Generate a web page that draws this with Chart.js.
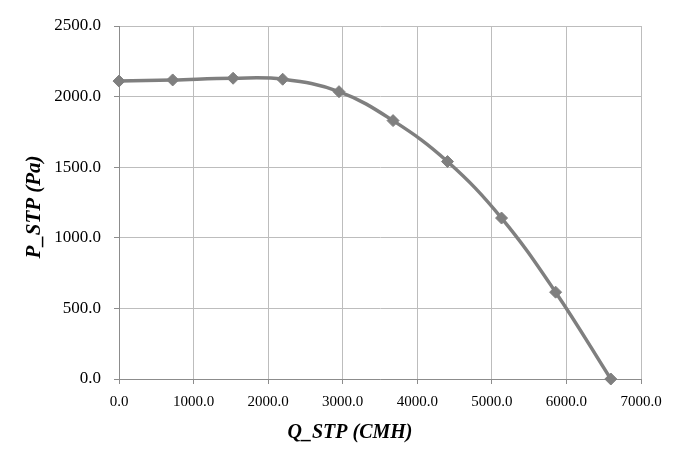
<!DOCTYPE html>
<html>
<head>
<meta charset="utf-8">
<script src="https://cdn.jsdelivr.net/npm/chart.js@4/dist/chart.umd.min.js"></script>
<style>
html,body{margin:0;padding:0;background:#fff;}
#wrap{width:700px;height:459px;position:relative;}
</style>
</head>
<body>
<div id="wrap"><canvas id="c" width="700" height="459"></canvas></div>
<script>
const qValues = [0, 720, 1530, 2195, 2950, 3675, 4405, 5130, 5855, 6595];
const pValues = [2110, 2118, 2130, 2123, 2035, 1830, 1540, 1140, 615, 0];
const xTitle = 'Q_STP (CMH)';
const yTitle = 'P_STP (Pa)';

const points = qValues.map((q, i) => ({x: q, y: pValues[i]}));

const titlePlugin = {
  id: 'axisTitles',
  afterDraw(chart) {
    const ctx = chart.ctx;
    ctx.save();
    ctx.fillStyle = '#000';
    ctx.textAlign = 'center';
    ctx.textBaseline = 'middle';
    ctx.font = 'italic bold 20px "Liberation Serif", "Times New Roman", serif';
    ctx.fillText(xTitle, 350, 433);
    ctx.translate(35, 207);
    ctx.rotate(-Math.PI / 2);
    ctx.font = 'italic bold 21px "Liberation Serif", "Times New Roman", serif';
    ctx.fillText(yTitle, 0, 0);
    ctx.restore();
  }
};

new Chart(document.getElementById('c'), {
  type: 'scatter',
  data: {
    datasets: [{
      data: points,
      showLine: true,
      clip: false,
      tension: 0.4,
      borderColor: '#7f7f7f',
      backgroundColor: '#7f7f7f',
      borderWidth: 3.5,
      pointStyle: 'rectRot',
      pointRadius: 6,
      pointHoverRadius: 6,
      pointBackgroundColor: '#7f7f7f',
      pointBorderColor: '#7f7f7f',
      pointBorderWidth: 1
    }]
  },
  options: {
    responsive: false,
    animation: false,
    devicePixelRatio: 1,
    layout: {padding: {left: 0, top: 26, right: 59, bottom: 0}},
    plugins: {legend: {display: false}, tooltip: {enabled: false}},
    scales: {
      x: {
        type: 'linear',
        min: 0, max: 7000,
        ticks: {
          stepSize: 1000,
          padding: 9,
          color: '#000',
          maxRotation: 0,
          font: {family: '"Liberation Serif", "Times New Roman", serif', size: 15},
          callback: v => v.toFixed(1)
        },
        grid: {color: '#bdbdbd', lineWidth: 1, tickLength: 5, tickColor: '#8c8c8c'},
        border: {color: '#8c8c8c', width: 1},
        afterFit(s) { s.height = 80; }
      },
      y: {
        type: 'linear',
        min: 0, max: 2500,
        ticks: {
          stepSize: 500,
          padding: 13,
          color: '#000',
          font: {family: '"Liberation Serif", "Times New Roman", serif', size: 17},
          callback: v => v.toFixed(1)
        },
        grid: {color: '#bdbdbd', lineWidth: 1, tickLength: 5, tickColor: '#8c8c8c'},
        border: {color: '#8c8c8c', width: 1},
        afterFit(s) { s.width = 119; }
      }
    }
  },
  plugins: [titlePlugin]
});
</script>
</body>
</html>
